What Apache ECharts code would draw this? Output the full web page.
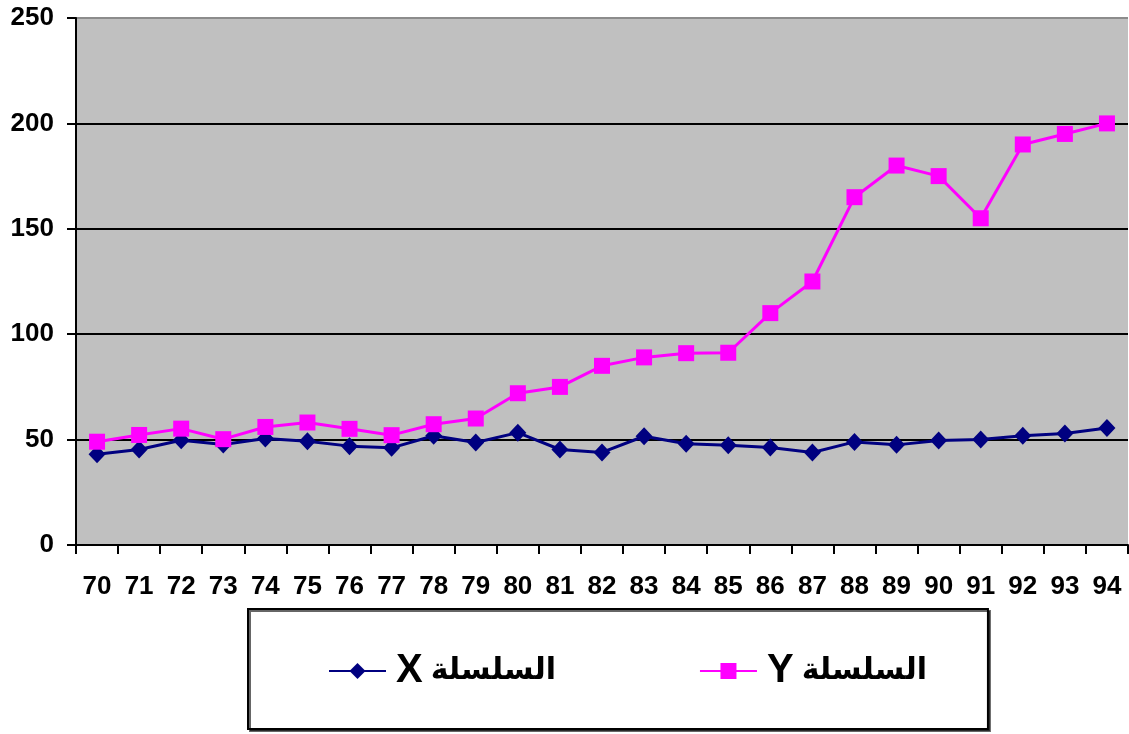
<!DOCTYPE html>
<html>
<head>
<meta charset="utf-8">
<script src="https://cdn.jsdelivr.net/npm/echarts@6/dist/echarts.min.js"></script>
<style>
  html, body { margin: 0; padding: 0; background: #fff; }
  #chart { width: 1129px; height: 734px; }
</style>
</head>
<body>
<div id="chart"></div>
<script>
// Years 1970-1994 (two-digit labels)
const categories = ['70','71','72','73','74','75','76','77','78','79','80','81','82','83','84','85','86','87','88','89','90','91','92','93','94'];
const seriesNames = ['السلسلة X', 'السلسلة Y'];
const seriesX = [43, 45.3, 49.7, 47.7, 50.5, 49.2, 46.9, 46.1, 51.8, 48.6, 53.3, 45.3, 43.9, 51.6, 48, 47.3, 46.2, 43.9, 48.9, 47.5, 49.6, 50, 51.8, 52.9, 55.5];
const seriesY = [49, 52.2, 55.2, 50.2, 56, 58.1, 55.1, 52.1, 57.3, 60, 72, 75, 85, 89, 91, 91.2, 110, 125, 165, 180, 175, 155, 190, 195, 200];
const yTicks = [0, 50, 100, 150, 200, 250];

const font = '"Liberation Sans", Arial, "DejaVu Sans", sans-serif';
const arabicFont = '"DejaVu Sans", "Liberation Sans", sans-serif';
const chart = echarts.init(document.getElementById('chart'), null, { renderer: 'canvas' });

chart.setOption({
  animation: false,
  backgroundColor: '#ffffff',
  grid: {
    left: 76, right: 1, top: 18, bottom: 189,
    show: true, backgroundColor: '#C0C0C0', borderWidth: 0
  },
  xAxis: {
    type: 'category',
    data: categories,
    boundaryGap: true,
    axisLine: { lineStyle: { color: '#000', width: 2 } },
    axisTick: { show: true, inside: false, length: 9, lineStyle: { color: '#000', width: 2 } },
    axisLabel: { color: '#000', fontSize: 26, fontWeight: 'bold', fontFamily: font, margin: 29 }
  },
  yAxis: {
    type: 'value',
    min: yTicks[0],
    max: yTicks[yTicks.length - 1],
    interval: 50,
    axisLine: { show: true, lineStyle: { color: '#000', width: 2 } },
    axisTick: { show: true, inside: false, length: 9, lineStyle: { color: '#000', width: 2 } },
    axisLabel: { color: '#000', fontSize: 26, fontWeight: 'bold', fontFamily: font, margin: 22 },
    splitLine: {
      show: true,
      lineStyle: { color: ['#000', '#000', '#000', '#000', '#000', '#8c8c8c'], width: 2 }
    }
  },
  legend: {
    left: 248,
    top: 609,
    orient: 'horizontal',
    padding: [42, 61, 38, 80],
    itemGap: 143,
    itemWidth: 57,
    itemHeight: 20,
    borderColor: '#000',
    borderWidth: 2,
    backgroundColor: '#fff',
    shadowColor: 'rgba(0,0,0,0.6)',
    shadowOffsetX: 2,
    shadowOffsetY: 2,
    shadowBlur: 0,
    // Latin letter drawn on the left, Arabic word on the right
    formatter: name => {
      const parts = name.split(' ');
      return '{l|' + parts[1] + '}{a|' + parts[0] + '}';
    },
    textStyle: {
      color: '#000', fontWeight: 'bold', fontFamily: font, fontSize: 34,
      rich: {
        l: { fontSize: 40, fontWeight: 'bold', fontFamily: font, color: '#000', padding: [0, 8, 0, 5] },
        a: { fontSize: 30, fontWeight: 'bold', fontFamily: arabicFont, color: '#000' }
      }
    },
    data: seriesNames
  },
  series: [
    {
      name: seriesNames[0],
      type: 'line',
      data: seriesX,
      symbol: 'diamond',
      symbolSize: [17, 18],
      lineStyle: { color: '#000080', width: 3 },
      itemStyle: { color: '#000080' }
    },
    {
      name: seriesNames[1],
      type: 'line',
      data: seriesY,
      symbol: 'rect',
      symbolSize: 16,
      lineStyle: { color: '#FF00FF', width: 3 },
      itemStyle: { color: '#FF00FF' }
    }
  ]
});
</script>
</body>
</html>
